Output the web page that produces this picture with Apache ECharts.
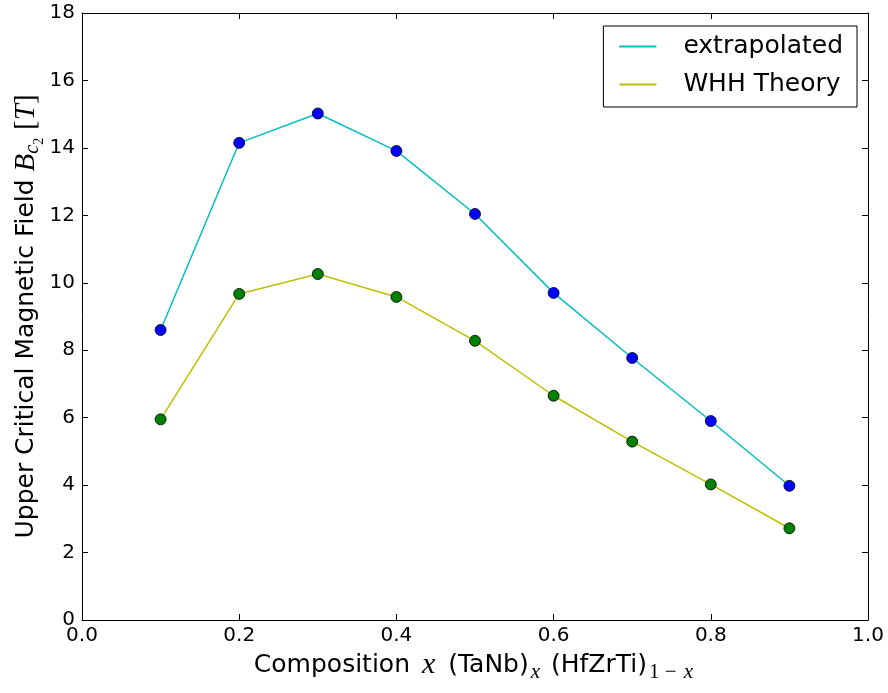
<!DOCTYPE html>
<html>
<head>
<meta charset="utf-8">
<script src="https://cdn.jsdelivr.net/npm/echarts@6/dist/echarts.min.js"></script>
<style>
html,body{margin:0;padding:0;background:#fff;}
#c{width:888px;height:693px;}
</style>
</head>
<body>
<div id="c"></div>
<script>
// ---- data ----
const composition = [0.1, 0.2, 0.3, 0.4, 0.5, 0.6, 0.7, 0.8, 0.9];
const extrapolated = [8.60, 14.15, 15.02, 13.91, 12.04, 9.70, 7.77, 5.90, 3.98];
const whhTheory = [5.95, 9.67, 10.26, 9.58, 8.28, 6.65, 5.29, 4.02, 2.72];
const seriesNames = ['extrapolated', 'WHH Theory'];
const xTicks = [0.0, 0.2, 0.4, 0.6, 0.8, 1.0];
const yTicks = [0, 2, 4, 6, 8, 10, 12, 14, 16, 18];

const pairs = (xs, ys) => xs.map((x, i) => [x, ys[i]]);

const sans = 'DejaVu Sans';
const serif = 'Liberation Serif';
const rich = {
  n: {fontFamily: sans, fontSize: 25, color: '#000'},
  m: {fontFamily: serif, fontStyle: 'italic', fontSize: 29, color: '#000'},
  mx: {fontFamily: serif, fontStyle: 'italic', fontSize: 30, color: '#000', padding: [0, 5, 0, 4]},
  u: {fontFamily: serif, fontSize: 29, color: '#000'},
  s: {fontFamily: serif, fontStyle: 'italic', fontSize: 20, color: '#000', padding: [14, 0, 0, 0]},
  sx: {fontFamily: serif, fontStyle: 'italic', fontSize: 21, color: '#000', padding: [14, 3, 0, 2]},
  su: {fontFamily: serif, fontSize: 21, color: '#000', padding: [14, 0, 0, 2]},
  ss: {fontFamily: serif, fontSize: 14, color: '#000', padding: [26, 0, 0, 0]}
};

const chart = echarts.init(document.getElementById('c'), null, {renderer: 'canvas'});
const axisCommon = () => ({
  axisLine: {show: true, onZero: false, lineStyle: {color: '#000', width: 1}},
  axisTick: {show: true, inside: true, length: 6, lineStyle: {color: '#000', width: 1}},
  splitLine: {show: false}
});
chart.setOption({
  animation: false,
  backgroundColor: '#fff',
  grid: {left: 82, right: 20, top: 13, bottom: 73, containLabel: false, outerBoundsMode: 'none'},
  legend: {
    data: seriesNames,
    right: 31, top: 26,
    orient: 'vertical',
    borderColor: '#000', borderWidth: 1,
    padding: [6, 14, 8, 16],
    itemGap: 9,
    itemWidth: 37, itemHeight: 2,
    icon: 'rect',
    textStyle: {fontFamily: sans, fontSize: 25, color: '#000', padding: [0, 0, 0, 22], lineHeight: 29}
  },
  xAxis: [
    Object.assign({
      type: 'value', min: xTicks[0], max: xTicks[xTicks.length - 1], interval: 0.2, position: 'bottom',
      axisLabel: {fontFamily: sans, fontSize: 20, color: '#000', margin: 6, formatter: v => v.toFixed(1)},
      name: '{n|Composition }{mx|x}{n| (TaNb)}{sx|x}{n| (HfZrTi)}{su|1 − }{sx|x}',
      nameLocation: 'middle', nameGap: 28, nameMoveOverlap: false,
      nameTextStyle: {rich: rich}
    }, axisCommon()),
    Object.assign({
      type: 'value', min: xTicks[0], max: xTicks[xTicks.length - 1], interval: 0.2, position: 'top',
      axisLabel: {show: false}
    }, axisCommon())
  ],
  yAxis: [
    Object.assign({
      type: 'value', min: yTicks[0], max: yTicks[yTicks.length - 1], interval: 2, position: 'left',
      axisLabel: {fontFamily: sans, fontSize: 20, color: '#000', margin: 7},
      name: '{n|Upper Critical Magnetic Field }{m|B}{s|c}{ss|2}{n| }{u|[}{m|T}{u|]}',
      nameLocation: 'middle', nameGap: 36, nameRotate: 90, nameMoveOverlap: false,
      nameTextStyle: {rich: rich}
    }, axisCommon()),
    Object.assign({
      type: 'value', min: yTicks[0], max: yTicks[yTicks.length - 1], interval: 2, position: 'right',
      axisLabel: {show: false}
    }, axisCommon())
  ],
  series: [
    {name: seriesNames[0], type: 'line', data: pairs(composition, extrapolated), showSymbol: false,
     lineStyle: {color: '#00BFBF', width: 1.5}, itemStyle: {color: '#00BFBF'}, z: 2},
    {name: seriesNames[1], type: 'line', data: pairs(composition, whhTheory), showSymbol: false,
     lineStyle: {color: '#BFBF00', width: 1.5}, itemStyle: {color: '#BFBF00'}, z: 2},
    {name: 'pts1', type: 'scatter', data: pairs(composition, extrapolated), symbolSize: 11,
     itemStyle: {color: '#0000FF', borderColor: '#000', borderWidth: 0.8, opacity: 1}, z: 3},
    {name: 'pts2', type: 'scatter', data: pairs(composition, whhTheory), symbolSize: 11,
     itemStyle: {color: '#008000', borderColor: '#000', borderWidth: 0.8, opacity: 1}, z: 3}
  ]
});
</script>
</body>
</html>
